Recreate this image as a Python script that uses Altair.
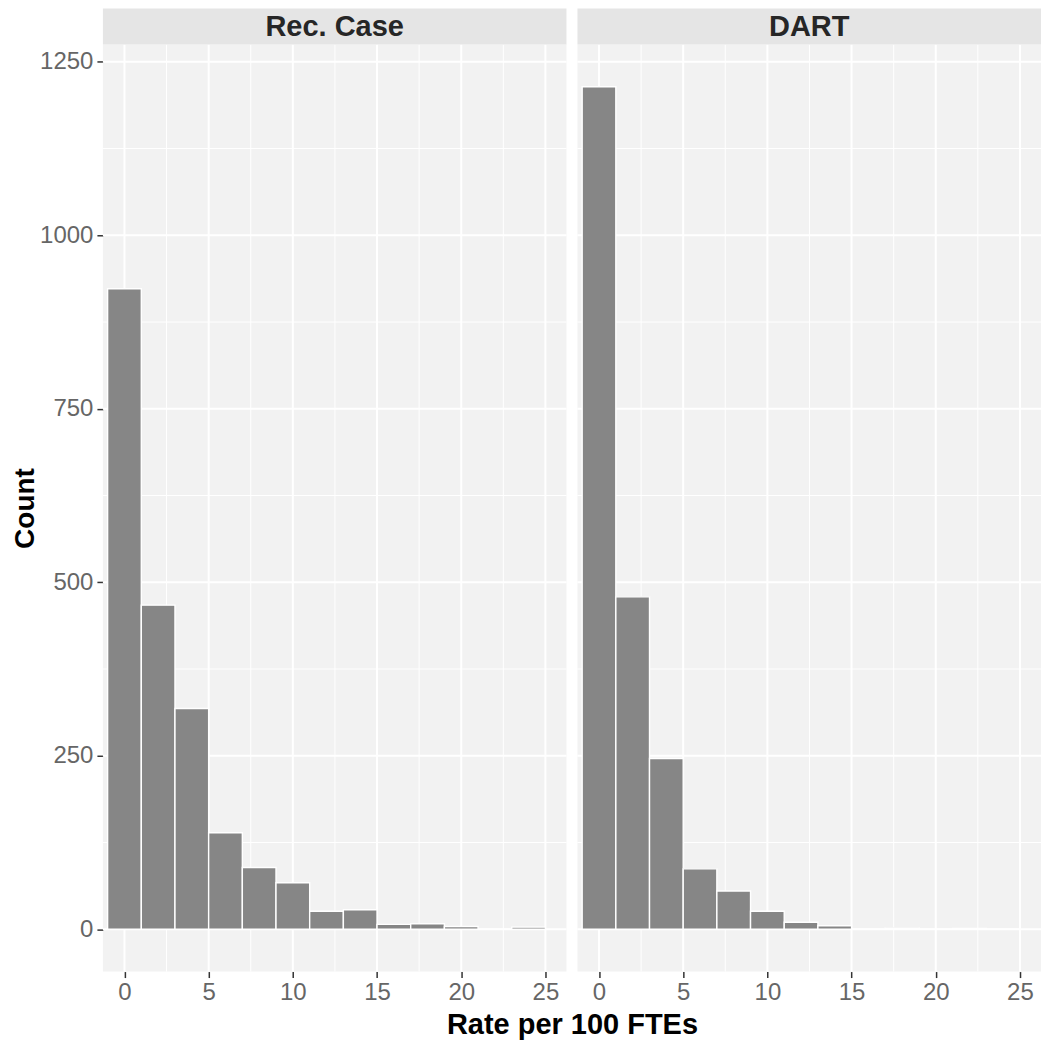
import altair as alt
import pandas as pd

# ---- data ----
panels = ["Rec. Case", "DART"]
bin_centers = [0, 2, 4, 6, 8, 10, 12, 14, 16, 18, 20, 22, 24]
bin_width = 2
rec_counts = [923, 467, 318, 139, 89, 67, 26, 28, 7, 8, 4, 0, 3]
dart_counts = [1214, 479, 246, 87, 55, 26, 10, 5, 0, 2, 0, 1, 0]

x_ticks = [0, 5, 10, 15, 20, 25]
x_minor = [2.5, 7.5, 12.5, 17.5, 22.5]
y_ticks = [0, 250, 500, 750, 1000, 1250]
y_minor = [125, 375, 625, 875, 1125]
x_domain = [-1.28, 26.25]
y_domain = [-61, 1275]

x_title = "Rate per 100 FTEs"
y_title = "Count"

# ---- layout / style ----
W = 464
H = 928
GAP = 11
STRIP = 36
FONT = "Liberation Sans"
BAR_FILL = "#868686"
PANEL_BG = "#F2F2F2"
STRIP_BG = "#E5E5E5"
LABEL_COLOR = "#666666"

xs = alt.Scale(domain=x_domain, nice=False, zero=False)
ys = alt.Scale(domain=y_domain, nice=False, zero=False)


def make_x_axis(with_title):
    kw = dict(
        values=x_ticks, grid=False, domain=False, format="d",
        tickSize=6, tickColor="#333333", tickWidth=1.5,
        labelFont=FONT, labelFontSize=24, labelColor=LABEL_COLOR,
        labelPadding=3,
    )
    if with_title:
        kw.update(title=x_title, titleFont=FONT, titleFontSize=29,
                  titleFontWeight="bold", titleColor="black",
                  titleX=-GAP / 2, titleAlign="center", titlePadding=6)
    else:
        kw.update(title=None)
    return alt.Axis(**kw)


def make_y_axis():
    return alt.Axis(
        values=y_ticks, grid=False, domain=False, format="d",
        tickSize=6, tickColor="#333333", tickWidth=1.5,
        labelFont=FONT, labelFontSize=24, labelColor=LABEL_COLOR,
        labelPadding=4,
        title=y_title, titleFont=FONT, titleFontSize=28,
        titleFontWeight="bold", titleColor="black", titlePadding=0,
    )


def panel(name, counts, show_y, show_xtitle):
    xa = make_x_axis(show_xtitle)
    ya = make_y_axis() if show_y else None

    df = pd.DataFrame({
        "start": [c - bin_width / 2 for c in bin_centers],
        "end": [c + bin_width / 2 for c in bin_centers],
        "count": counts,
        "zero": [0] * len(counts),
    })

    vmin = alt.Chart(pd.DataFrame({"v": x_minor})).mark_rule(
        color="white", strokeWidth=1
    ).encode(x=alt.X("v:Q", scale=xs, axis=xa))
    vmaj = alt.Chart(pd.DataFrame({"v": x_ticks})).mark_rule(
        color="white", strokeWidth=2
    ).encode(x=alt.X("v:Q", scale=xs, axis=xa))
    hmin = alt.Chart(pd.DataFrame({"h": y_minor})).mark_rule(
        color="white", strokeWidth=1
    ).encode(y=alt.Y("h:Q", scale=ys, axis=ya))
    hmaj = alt.Chart(pd.DataFrame({"h": y_ticks})).mark_rule(
        color="white", strokeWidth=2
    ).encode(y=alt.Y("h:Q", scale=ys, axis=ya))

    bars = alt.Chart(df).mark_rect(
        fill=BAR_FILL, stroke="white", strokeWidth=1.4
    ).encode(
        x=alt.X("start:Q", scale=xs, axis=xa),
        x2="end:Q",
        y=alt.Y("count:Q", scale=ys, axis=ya),
        y2="zero:Q",
    )

    lab = pd.DataFrame({"panel": [name]})
    strip = alt.Chart(lab).mark_rect(color=STRIP_BG).encode(
        x=alt.value(0), x2=alt.value(W),
        y=alt.value(-STRIP), y2=alt.value(0),
    )
    strip_text = alt.Chart(lab).mark_text(
        font=FONT, fontSize=29, fontWeight="bold", color="#262626",
        align="center", baseline="middle", dy=1,
    ).encode(
        x=alt.value(W / 2), y=alt.value(-STRIP / 2), text="panel:N"
    )

    return alt.layer(
        vmin, hmin, vmaj, hmaj, bars, strip, strip_text
    ).properties(width=W, height=H)


left = panel(panels[0], rec_counts, True, False)
right = panel(panels[1], dart_counts, False, True)

chart = alt.hconcat(left, right, spacing=GAP, bounds="flush").configure_view(
    fill=PANEL_BG, stroke=None
).properties(
    padding={"left": 3, "top": 0, "right": 0, "bottom": 0},
    background="white",
)

chart.save("out.html", embed_options={"renderer": "svg", "actions": False})
